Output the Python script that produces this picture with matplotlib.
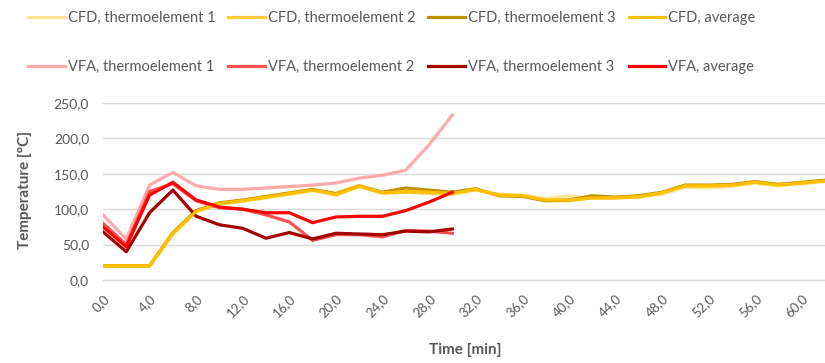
import numpy as np
import matplotlib
matplotlib.use("Agg")
import matplotlib.pyplot as plt

# time axis, one reading every 2 minutes
time_cfd = list(range(0, 64, 2))
time_vfa = list(range(0, 32, 2))

cfd_t1 = [20, 20, 20, 64, 96, 107, 111, 116, 121, 126, 123, 134, 122, 124, 122, 121,
          127, 121, 120, 115, 119, 115, 116, 118, 121, 131, 130, 132, 137, 133, 136, 139]
cfd_t2 = [20, 20, 20, 66, 98, 108, 112, 117, 122, 127, 120, 132, 123, 124, 123, 122,
          128, 120, 119, 112, 112, 116, 116, 117, 123, 134, 133, 134, 138, 135, 137, 140]
cfd_t3 = [20, 20, 20, 67, 98, 109, 113, 118, 123, 128, 122, 133, 124, 130, 127, 124,
          129, 119, 118, 112, 113, 119, 117, 119, 124, 134, 134, 135, 139, 135, 138, 141]
cfd_avg = [20, 20, 20, 66, 97, 108, 112, 117, 122, 127, 121, 133, 123, 125, 124, 122,
           128, 120, 119, 113, 113, 116, 116, 118, 123, 133, 133, 134, 138, 134, 137, 140]

vfa_t1 = [92, 58, 134, 152, 133, 128, 128, 130, 132, 134, 137, 144, 148, 155, 191, 233]
vfa_t2 = [80, 50, 125, 136, 112, 102, 100, 92, 82, 56, 64, 64, 61, 70, 69, 66]
vfa_t3 = [68, 40, 95, 127, 90, 78, 73, 59, 67, 58, 66, 65, 64, 69, 68, 72]
vfa_avg = [75, 47, 120, 138, 113, 103, 100, 95, 95, 81, 89, 90, 90, 98, 110, 124]

gray = "#595959"
plt.rcParams["font.family"] = ["Lato", "DejaVu Sans"]

fig = plt.figure(figsize=(8.25, 3.63), dpi=100)
ax = fig.add_axes([103 / 825, 1 - 280 / 363, 1 - 103 / 825, (280 - 103) / 363])

series = [
    (time_cfd, cfd_t1, "#FFE699", "CFD, thermoelement 1"),
    (time_vfa, vfa_t1, "#FFAAAA", "VFA, thermoelement 1"),
    (time_cfd, cfd_t2, "#FFCC33", "CFD, thermoelement 2"),
    (time_vfa, vfa_t2, "#FF5050", "VFA, thermoelement 2"),
    (time_cfd, cfd_t3, "#BF9000", "CFD, thermoelement 3"),
    (time_vfa, vfa_t3, "#A50000", "VFA, thermoelement 3"),
    (time_cfd, cfd_avg, "#FFC000", "CFD, average"),
    (time_vfa, vfa_avg, "#FF0000", "VFA, average"),
]
handles = []
for x, y, c, lab in series:
    h, = ax.plot(x, y, color=c, lw=2.3, label=lab, solid_joinstyle="round")
    handles.append(h)

ax.set_xlim(0, 62)
ax.set_ylim(0, 250)
ax.set_yticks(np.arange(0, 251, 50))
ax.set_yticklabels([f"{v:.1f}".replace(".", ",") for v in np.arange(0, 251, 50)])
xt = list(range(0, 61, 4))
ax.set_xticks(xt)
ax.set_xticklabels([f"{v:.1f}".replace(".", ",") for v in xt], rotation=45,
                   ha="right", rotation_mode="anchor")
ax.grid(axis="y", color="#D9D9D9", lw=1)
ax.set_axisbelow(True)
for s in ["top", "right", "left"]:
    ax.spines[s].set_visible(False)
ax.spines["bottom"].set_color("#D9D9D9")
ax.tick_params(length=0, colors=gray, labelsize=10)
ax.tick_params(axis="x", pad=9, labelsize=9.5)
ax.tick_params(axis="y", pad=10)

fig.text(25 / 825, 1 - 190 / 363, "Temperature [°C]", rotation=90, ha="center",
         va="center", fontsize=11, fontweight="bold", color=gray)
fig.text(465 / 825, 1 - 350 / 363, "Time [min]", ha="center", va="center",
         fontsize=11, fontweight="bold", color=gray)

fig.legend(handles=handles, ncol=4, loc="upper left", bbox_to_anchor=(15 / 825, 1 + 2 / 363),
           frameon=False, fontsize=10.5, labelcolor=gray, handlelength=2.5,
           handletextpad=0.2, columnspacing=0.9, labelspacing=2.4)

fig.savefig("out.png", dpi=100)
